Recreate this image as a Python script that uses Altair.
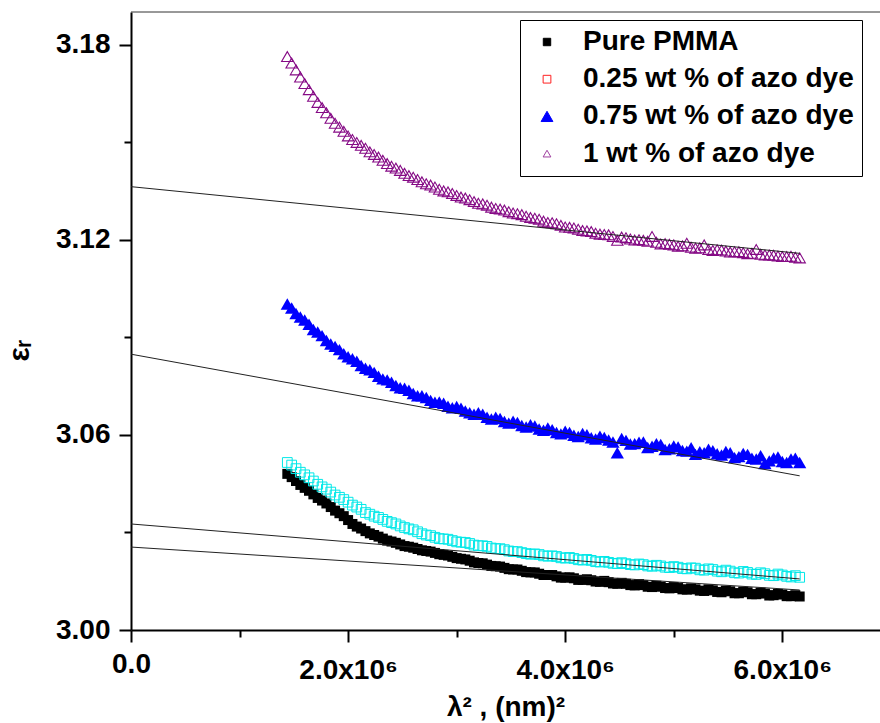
import altair as alt
import pandas as pd

# lambda^2 in units of 10^6 nm^2 (two interleaved sampling sets)
X = [1.44, 1.52, 1.60, 1.68, 1.76, 1.84, 1.92, 2.00, 2.08, 2.16,
     2.24, 2.32, 2.40, 2.48, 2.56, 2.64, 2.72, 2.80, 2.88, 2.96,
     3.04, 3.12, 3.20, 3.28, 3.36, 3.44, 3.52, 3.60, 3.68, 3.76,
     3.84, 3.92, 4.00, 4.08, 4.16, 4.24, 4.32, 4.40, 4.48, 4.56,
     4.64, 4.72, 4.80, 4.88, 4.96, 5.04, 5.12, 5.20, 5.28, 5.36,
     5.44, 5.52, 5.60, 5.68, 5.76, 5.84, 5.92, 6.00, 6.08, 6.16]

X2 = [1.48, 1.56, 1.64, 1.72, 1.80, 1.88, 1.96, 2.04, 2.12, 2.20,
      2.28, 2.36, 2.44, 2.52, 2.60, 2.68, 2.76, 2.84, 2.92, 3.00,
      3.08, 3.16, 3.24, 3.32, 3.40, 3.48, 3.56, 3.64, 3.72, 3.80,
      3.88, 3.96, 4.04, 4.12, 4.20, 4.28, 4.36, 4.44, 4.52, 4.60,
      4.68, 4.76, 4.84, 4.92, 5.00, 5.08, 5.16, 5.24, 5.32, 5.40,
      5.48, 5.56, 5.64, 5.72, 5.80, 5.88, 5.96, 6.04, 6.12]

PMMA = [3.0480, 3.0458, 3.0437, 3.0417, 3.0398, 3.0378, 3.0359, 3.0338, 3.0318, 3.0304,
        3.0292, 3.0281, 3.0272, 3.0263, 3.0256, 3.0249, 3.0243, 3.0237, 3.0231, 3.0225,
        3.0219, 3.0213, 3.0206, 3.0201, 3.0196, 3.0191, 3.0186, 3.0182, 3.0177, 3.0173,
        3.0169, 3.0165, 3.0161, 3.0159, 3.0154, 3.0153, 3.0148, 3.0147, 3.0142, 3.0142,
        3.0137, 3.0138, 3.0132, 3.0133, 3.0128, 3.0129, 3.0124, 3.0125, 3.0120, 3.0122,
        3.0116, 3.0119, 3.0113, 3.0116, 3.0110, 3.0112, 3.0107, 3.0109, 3.0104, 3.0103]
PMMA_B = [3.0470, 3.0446, 3.0428, 3.0406, 3.0389, 3.0367, 3.0350, 3.0326, 3.0312, 3.0297,
          3.0287, 3.0275, 3.0268, 3.0258, 3.0253, 3.0245, 3.0241, 3.0233, 3.0229, 3.0221,
          3.0217, 3.0208, 3.0205, 3.0197, 3.0195, 3.0187, 3.0186, 3.0178, 3.0177, 3.0169,
          3.0169, 3.0161, 3.0162, 3.0154, 3.0156, 3.0149, 3.0151, 3.0143, 3.0145, 3.0138,
          3.0141, 3.0133, 3.0136, 3.0129, 3.0132, 3.0125, 3.0128, 3.0121, 3.0125, 3.0117,
          3.0121, 3.0113, 3.0118, 3.0110, 3.0115, 3.0106, 3.0111, 3.0104, 3.0107]

AZO025 = [3.0515, 3.0496, 3.0477, 3.0458, 3.0440, 3.0424, 3.0408, 3.0393, 3.0378, 3.0361,
          3.0350, 3.0340, 3.0330, 3.0320, 3.0311, 3.0302, 3.0292, 3.0285, 3.0280, 3.0275,
          3.0270, 3.0266, 3.0259, 3.0257, 3.0250, 3.0247, 3.0241, 3.0238, 3.0233, 3.0232,
          3.0227, 3.0226, 3.0221, 3.0220, 3.0215, 3.0214, 3.0209, 3.0208, 3.0204, 3.0204,
          3.0200, 3.0201, 3.0196, 3.0197, 3.0192, 3.0193, 3.0188, 3.0190, 3.0184, 3.0186,
          3.0179, 3.0181, 3.0175, 3.0177, 3.0171, 3.0173, 3.0167, 3.0169, 3.0163, 3.0162]
AZO025_B = [3.0507, 3.0485, 3.0468, 3.0448, 3.0433, 3.0415, 3.0401, 3.0384, 3.0371, 3.0356,
            3.0346, 3.0334, 3.0326, 3.0315, 3.0308, 3.0296, 3.0290, 3.0281, 3.0279, 3.0271,
            3.0269, 3.0261, 3.0259, 3.0252, 3.0250, 3.0243, 3.0241, 3.0235, 3.0234, 3.0228,
            3.0228, 3.0222, 3.0223, 3.0216, 3.0217, 3.0210, 3.0211, 3.0205, 3.0207, 3.0201,
            3.0203, 3.0197, 3.0199, 3.0193, 3.0195, 3.0189, 3.0191, 3.0185, 3.0188, 3.0181,
            3.0184, 3.0176, 3.0180, 3.0172, 3.0176, 3.0168, 3.0172, 3.0165, 3.0167]

AZO075 = [3.1002, 3.0973, 3.0953, 3.0924, 3.0905, 3.0879, 3.0862, 3.0840, 3.0826, 3.0805,
          3.0792, 3.0772, 3.0762, 3.0745, 3.0737, 3.0720, 3.0715, 3.0700, 3.0697, 3.0683,
          3.0682, 3.0668, 3.0668, 3.0654, 3.0654, 3.0641, 3.0642, 3.0629, 3.0631, 3.0618,
          3.0621, 3.0607, 3.0611, 3.0599, 3.0604, 3.0591, 3.0596, 3.0584, 3.0545, 3.0583,
          3.0573, 3.0578, 3.0565, 3.0570, 3.0557, 3.0563, 3.0550, 3.0540, 3.0545, 3.0551,
          3.0538, 3.0545, 3.0533, 3.0540, 3.0526, 3.0512, 3.0529, 3.0518, 3.0526, 3.0515]
AZO075_B = [3.0990, 3.0962, 3.0940, 3.0916, 3.0890, 3.0872, 3.0849, 3.0834, 3.0813, 3.0800,
            3.0780, 3.0769, 3.0752, 3.0743, 3.0727, 3.0720, 3.0706, 3.0701, 3.0688, 3.0687,
            3.0673, 3.0663, 3.0663, 3.0649, 3.0650, 3.0636, 3.0638, 3.0624, 3.0627, 3.0614,
            3.0616, 3.0603, 3.0607, 3.0595, 3.0600, 3.0587, 3.0592, 3.0578, 3.0589, 3.0572,
            3.0577, 3.0561, 3.0573, 3.0555, 3.0566, 3.0552, 3.0560, 3.0548, 3.0556, 3.0542,
            3.0549, 3.0530, 3.0543, 3.0528, 3.0536, 3.0520, 3.0532, 3.0515, 3.0528]

AZO1 = [3.1763, 3.1722, 3.1680, 3.1641, 3.1606, 3.1573, 3.1546, 3.1519, 3.1499, 3.1481,
        3.1462, 3.1444, 3.1426, 3.1413, 3.1397, 3.1385, 3.1372, 3.1362, 3.1350, 3.1342,
        3.1331, 3.1323, 3.1312, 3.1306, 3.1296, 3.1291, 3.1282, 3.1277, 3.1268, 3.1263,
        3.1253, 3.1249, 3.1239, 3.1236, 3.1228, 3.1225, 3.1217, 3.1215, 3.1198, 3.1206,
        3.1199, 3.1198, 3.1210, 3.1187, 3.1186, 3.1180, 3.1189, 3.1174, 3.1184, 3.1167,
        3.1168, 3.1162, 3.1163, 3.1157, 3.1170, 3.1153, 3.1152, 3.1148, 3.1149, 3.1144]
AZO1_B = [3.1743, 3.1700, 3.1661, 3.1622, 3.1590, 3.1558, 3.1533, 3.1508, 3.1490, 3.1470,
          3.1454, 3.1434, 3.1420, 3.1404, 3.1392, 3.1378, 3.1368, 3.1355, 3.1347, 3.1336,
          3.1328, 3.1317, 3.1310, 3.1300, 3.1294, 3.1286, 3.1280, 3.1272, 3.1266, 3.1257,
          3.1252, 3.1244, 3.1238, 3.1232, 3.1227, 3.1220, 3.1216, 3.1210, 3.1208, 3.1202,
          3.1200, 3.1195, 3.1192, 3.1188, 3.1184, 3.1181, 3.1177, 3.1175, 3.1170, 3.1169,
          3.1165, 3.1163, 3.1160, 3.1158, 3.1155, 3.1153, 3.1150, 3.1148, 3.1146]

# linear fits (ends)
FIT_X = [0.0, 6.16]
FIT_PMMA = [3.0255, 3.0123]
FIT_025 = [3.0326, 3.0157]
FIT_075 = [3.0848, 3.0474]
FIT_1 = [3.1363, 3.1158]

SERIES = ["\u00a0Pure PMMA", "\u00a00.25 wt % of azo dye\u00a0",
          "\u00a00.75 wt % of azo dye\u00a0", "1 wt % of azo dye"]

Y_TICKS = [3.00, 3.03, 3.06, 3.09, 3.12, 3.15, 3.18]
X_TICKS = [0, 1, 2, 3, 4, 5, 6]

rows = []
for name, ya, yb in zip(SERIES, [PMMA, AZO025, AZO075, AZO1],
                        [PMMA_B, AZO025_B, AZO075_B, AZO1_B]):
    for xv, yv in zip(X, ya):
        rows.append({"x": xv, "y": yv, "series": name})
    for xv, yv in zip(X2, yb):
        rows.append({"x": xv, "y": yv, "series": name})
df = pd.DataFrame(rows)

frows = []
for name, ys in zip(SERIES, [FIT_PMMA, FIT_025, FIT_075, FIT_1]):
    for xv, yv in zip(FIT_X, ys):
        frows.append({"x": xv, "y": yv, "fit": name})
fdf = pd.DataFrame(frows)

FONT = "Liberation Sans"

x_axis = alt.Axis(
    values=X_TICKS,
    title="\u03bb\u00b2 , (nm)\u00b2",
    labelExpr="round(datum.value) % 2 == 0 ? (datum.value == 0 ? '0.0' : format(datum.value, '.1f') + 'x10\u2076') : ''",
    tickSize={"condition": {"test": "round(datum.value) % 2 == 0", "value": 12}, "value": 7},
    labelPadding={"condition": {"test": "datum.value == 0", "value": 8}, "value": 14},
    tickWidth=2, tickColor="black", domainWidth=2, domainColor="black",
    labelFont=FONT, labelFontSize=28, labelFontWeight="bold", labelColor="black",
    titleFont=FONT, titleFontSize=28, titleFontWeight="bold", titleColor="black",
    titleBaseline="alphabetic", titleY=85, grid=False, labelFlush=False, labelOverlap=False,
)

y_axis = alt.Axis(
    values=Y_TICKS,
    title="\u03b5\u1d63",
    labelExpr="round(datum.value * 100) % 6 == 0 ? format(datum.value, '.2f') : ''",
    tickSize={"condition": {"test": "round(datum.value * 100) % 6 == 0", "value": 12}, "value": 7},
    labelPadding=9,
    tickWidth=2, tickColor="black", domainWidth=2, domainColor="black",
    labelFont=FONT, labelFontSize=28, labelFontWeight="bold", labelColor="black",
    titleFont=FONT, titleFontSize=30, titleFontWeight="bold", titleColor="black",
    titleAngle=270, titleBaseline="alphabetic", titleAlign="center",
    titleX=-103, titleY=338, grid=False, labelOverlap=False,
)

x_scale = alt.Scale(domain=[0, 6.9], nice=False, zero=False)
y_scale = alt.Scale(domain=[3.00, 3.19], nice=False, zero=False)

base = alt.Chart(df).encode(
    x=alt.X("x:Q", scale=x_scale, axis=x_axis),
    y=alt.Y("y:Q", scale=y_scale, axis=y_axis),
)

black = base.transform_filter(alt.datum.series == SERIES[0]).mark_point(
    shape="square", filled=True, color="black", size=100, opacity=1)
cyan = base.transform_filter(alt.datum.series == SERIES[1]).mark_point(
    shape="square", filled=False, color="#00e8e8", size=95, strokeWidth=1, opacity=1)
blue = base.transform_filter(alt.datum.series == SERIES[2]).mark_point(
    shape="triangle-up", filled=True, color="#0000ff", size=175, opacity=1)
purple = base.transform_filter(alt.datum.series == SERIES[3]).mark_point(
    shape="triangle-up", filled=False, color="#850a85", size=130, strokeWidth=1.1, opacity=1)

fits = alt.Chart(fdf).mark_line(color="#222222", strokeWidth=1).encode(
    x=alt.X("x:Q", scale=x_scale, axis=x_axis),
    y=alt.Y("y:Q", scale=y_scale, axis=y_axis),
    detail="fit:N",
)

leg = alt.Legend(
    title=None, orient="none", legendX=389, legendY=8,
    strokeColor="black", fillColor="white", padding=8, rowPadding=9.2,
    labelFont=FONT, labelFontSize=28, labelFontWeight="bold", labelColor="black",
    labelLimit=600, symbolOffset=5, labelOffset=22, symbolStrokeWidth=1,
    symbolOpacity=1,
)

legend_layer = base.mark_point(opacity=0, filled=True).encode(
    shape=alt.Shape("series:N", scale=alt.Scale(domain=SERIES,
                    range=["square", "square", "triangle-up", "triangle-up"]), legend=leg),
    fill=alt.Fill("series:N", scale=alt.Scale(domain=SERIES,
                  range=["black", "white", "#0000ff", "white"]), legend=leg),
    stroke=alt.Stroke("series:N", scale=alt.Scale(domain=SERIES,
                      range=["black", "#ff2020", "#0000ff", "#a040a0"]), legend=leg),
    size=alt.Size("series:N", scale=alt.Scale(type="ordinal", domain=SERIES,
                  range=[55, 60, 140, 60]), legend=leg),
)

top_border = alt.Chart(pd.DataFrame({"a": [0]})).mark_rule(
    color="#333333", strokeWidth=1).encode(
    x=alt.value(0), x2=alt.value(749), y=alt.value(0))

chart = alt.layer(black, cyan, blue, purple, fits, legend_layer, top_border).properties(
    width=749, height=618,
    padding={"left": 131, "top": 12, "right": 0, "bottom": 92},
    autosize=alt.AutoSizeParams(type="none"),
).configure_view(stroke=None)

chart.save("out.html", embed_options={"renderer": "svg", "actions": False})
